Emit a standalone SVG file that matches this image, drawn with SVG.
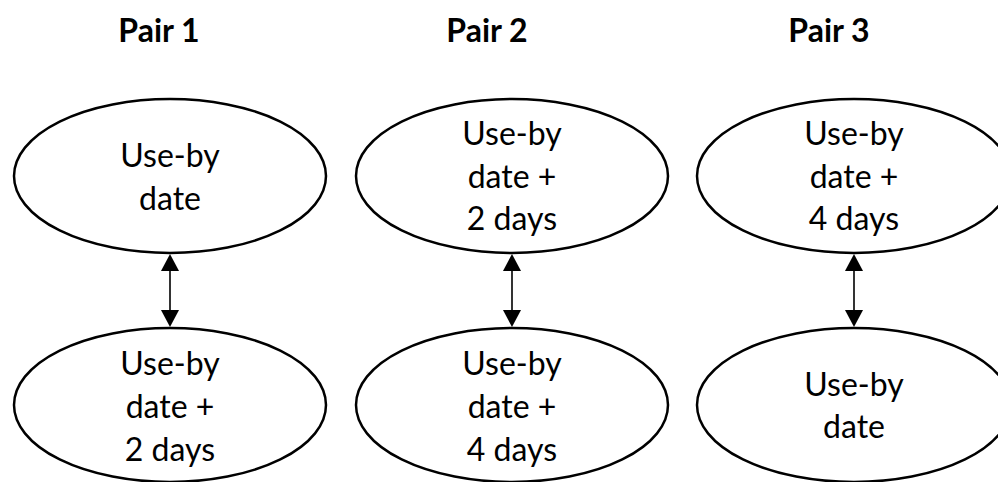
<svg xmlns="http://www.w3.org/2000/svg" width="998" height="482" viewBox="0 0 998 482">
<style>
.bg{fill:#ffffff}
.node ellipse{fill:#ffffff;stroke:#000000;stroke-width:2.5}
.lbl{font-family:Lato,"Open Sans","Liberation Sans",sans-serif;font-size:32px;fill:#000000;text-anchor:middle}
.title{font-family:Lato,"Open Sans","Liberation Sans",sans-serif;font-size:32px;font-weight:bold;fill:#000000;text-anchor:middle}
.conn line{stroke:#000000;stroke-width:1.6}
.conn path{fill:#000000;stroke:none}
</style>
<rect class="bg" x="0" y="0" width="998" height="482"/>
<g id="titles">
<text class="title" x="159" y="42">Pair 1</text>
<text class="title" x="487" y="42">Pair 2</text>
<text class="title" x="829" y="42">Pair 3</text>
</g>
<g id="connectors" class="conn">
<line x1="170" y1="268" x2="170" y2="313"/>
<path d="M170,254 L161,271 L179,271 Z"/>
<path d="M170,327 L161,310 L179,310 Z"/>
<line x1="512" y1="268" x2="512" y2="313"/>
<path d="M512,254 L503,271 L521,271 Z"/>
<path d="M512,327 L503,310 L521,310 Z"/>
<line x1="854" y1="268" x2="854" y2="313"/>
<path d="M854,254 L845,271 L863,271 Z"/>
<path d="M854,327 L845,310 L863,310 Z"/>
</g>
<g id="p1-top" class="node">
<ellipse cx="170" cy="176" rx="156" ry="77"/>
<text class="lbl" x="170" y="167">Use-by</text>
<text class="lbl" x="170" y="210">date</text>
</g>
<g id="p1-bottom" class="node">
<ellipse cx="170" cy="405" rx="156" ry="77"/>
<text class="lbl" x="170" y="375">Use-by</text>
<text class="lbl" x="170" y="418">date +</text>
<text class="lbl" x="170" y="461">2 days</text>
</g>
<g id="p2-top" class="node">
<ellipse cx="512" cy="176" rx="156" ry="77"/>
<text class="lbl" x="512" y="145">Use-by</text>
<text class="lbl" x="512" y="188">date +</text>
<text class="lbl" x="512" y="230">2 days</text>
</g>
<g id="p2-bottom" class="node">
<ellipse cx="512" cy="405" rx="156" ry="77"/>
<text class="lbl" x="512" y="375">Use-by</text>
<text class="lbl" x="512" y="418">date +</text>
<text class="lbl" x="512" y="461">4 days</text>
</g>
<g id="p3-top" class="node">
<ellipse cx="854" cy="176" rx="157" ry="77"/>
<text class="lbl" x="854" y="145">Use-by</text>
<text class="lbl" x="854" y="188">date +</text>
<text class="lbl" x="854" y="230">4 days</text>
</g>
<g id="p3-bottom" class="node">
<ellipse cx="854" cy="405" rx="157" ry="77"/>
<text class="lbl" x="854" y="396">Use-by</text>
<text class="lbl" x="854" y="438">date</text>
</g>
</svg>
